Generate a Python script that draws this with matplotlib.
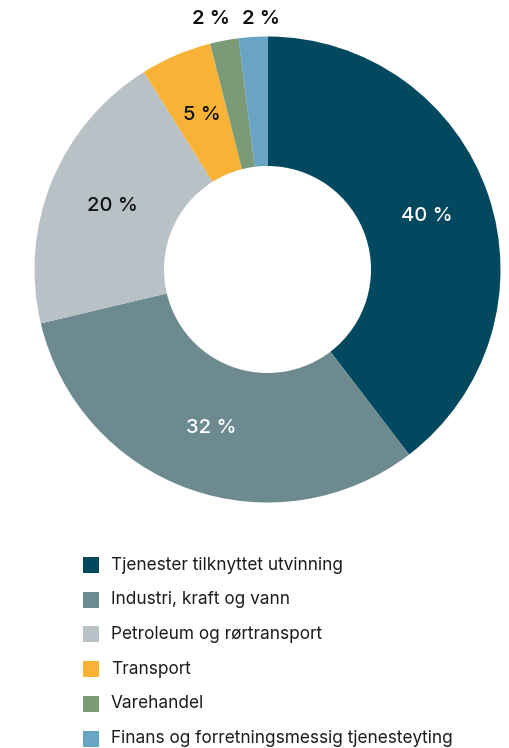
import matplotlib
matplotlib.use("Agg")
import matplotlib.pyplot as plt
import numpy as np
from matplotlib.patches import Rectangle

# Share of value (percent) by sector
categories = [
    "Tjenester tilknyttet utvinning",
    "Industri, kraft og vann",
    "Petroleum og rørtransport",
    "Transport",
    "Varehandel",
    "Finans og forretningsmessig tjenesteyting",
]
shares = [40, 32, 20, 5, 2, 2]
colors = ["#02495F", "#6C8A8F", "#B8C1C5", "#F8B236", "#7A9A78", "#6AA4C4"]
label_colors = ["white", "white", "#111111", "#111111", "#111111", "#111111"]

W, H = 509, 748
fig = plt.figure(figsize=(W / 100, H / 100), dpi=100)

# Donut axes: centre and outer radius in pixels
cx, cy, R, r_in = 267.5, 269.5, 233.0, 103.5
ax = fig.add_axes([(cx - R) / W, (H - cy - R) / H, 2 * R / W, 2 * R / H])

wedges, _ = ax.pie(
    shares,
    colors=colors,
    startangle=90,
    counterclock=False,
    radius=1.0,
    wedgeprops=dict(width=1 - r_in / R, edgecolor="none", linewidth=0),
)
ax.set_xlim(-1, 1)
ax.set_ylim(-1, 1)
ax.set_aspect("equal")
ax.axis("off")

label_font = dict(family="Inter", fontsize=14.5, fontweight="medium")

outside = []
for w, val, tc in zip(wedges, shares, label_colors):
    mid = np.deg2rad((w.theta1 + w.theta2) / 2)
    text = f"{val} %"
    if val >= 4:
        rad = 0.72
        ax.text(np.cos(mid) * rad, np.sin(mid) * rad, text, color=tc,
                ha="center", va="center", **label_font)
    else:
        outside.append((np.cos(mid) * 1.08, text, tc))

# Small slices: labels above the ring, spread apart so they don't collide
if outside:
    xs = np.array([o[0] for o in outside])
    gap = 50 / R
    centre = xs.mean()
    n = len(xs)
    order = np.argsort(xs)
    spread = centre + (np.arange(n) - (n - 1) / 2) * gap
    for k, idx in enumerate(order):
        ax.text(spread[k], 1.075, outside[idx][1], color=outside[idx][2],
                ha="center", va="center", clip_on=False,
                **{**label_font, "fontweight": "semibold"})

# Legend drawn as square swatches with text
lax = fig.add_axes([0, 0, 1, 1])
lax.set_xlim(0, W)
lax.set_ylim(H, 0)
lax.axis("off")
row0, step, sq = 565, 34.7, 16
for i, (cat, col) in enumerate(zip(categories, colors)):
    y = row0 + i * step
    lax.add_patch(Rectangle((83, y - sq / 2), sq, sq, facecolor=col, edgecolor="none"))
    lax.text(111, y, cat, ha="left", va="center", fontsize=12.4,
             family="Inter", color="#1c1c1c")

fig.savefig("out.png", dpi=100)
